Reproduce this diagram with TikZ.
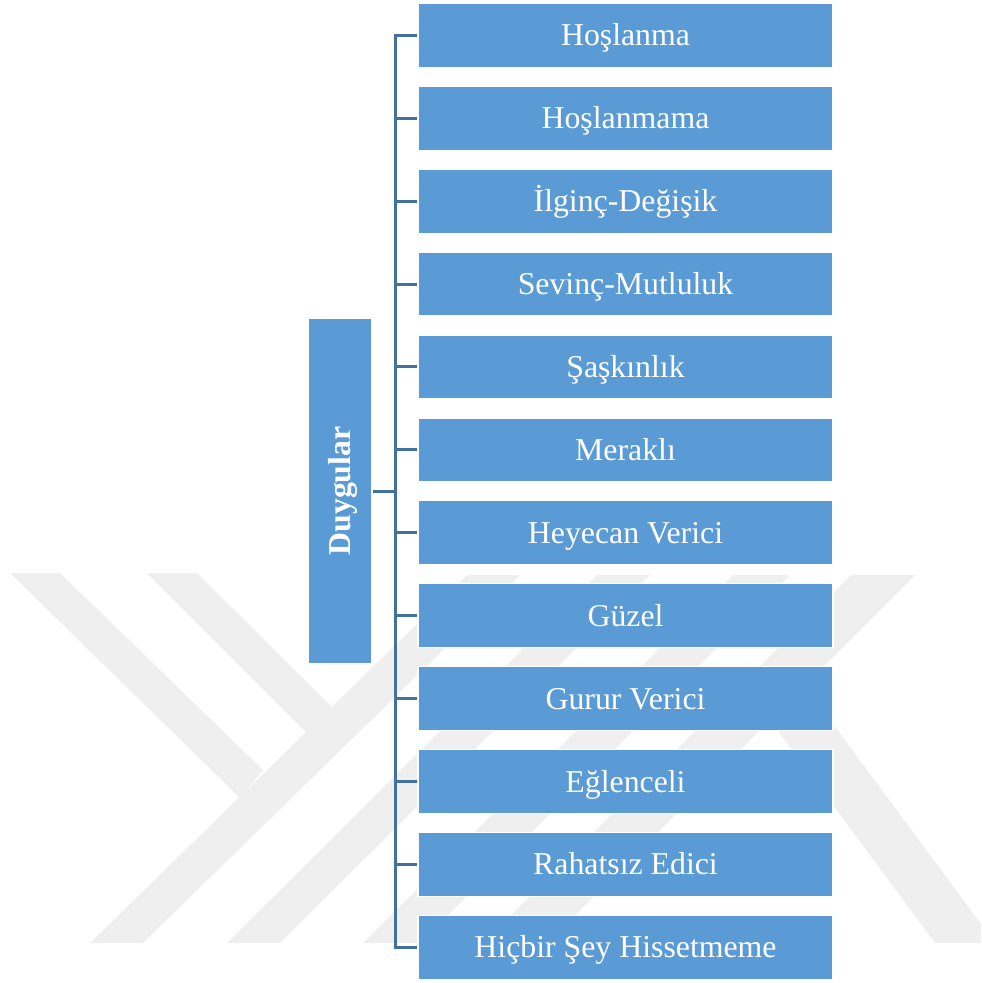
\documentclass[tikz,border=0pt]{standalone}
\usepackage{fontspec}
\setmainfont{Liberation Serif}
\definecolor{boxblue}{HTML}{5B9BD5}
\definecolor{lineblue}{HTML}{41719C}
\definecolor{wmgray}{HTML}{EFEFEF}

\begin{document}
\begin{tikzpicture}[x=0.5pt, y=-0.5pt,
  item/.style={fill=boxblue, draw=white, line width=0.6pt, text=white,
    minimum width=207.5pt, minimum height=32pt, inner sep=0pt,
    text height=10.5pt, text depth=0pt,
    font=\fontsize{15.9}{18}\selectfont},
  root/.style={fill=boxblue, draw=white, line width=0.6pt, text=white,
    minimum width=173pt, minimum height=32pt, inner sep=0pt, rotate=90,
    text height=10.6pt, text depth=0pt,
    font=\fontsize{15.9}{18}\selectfont\bfseries},
  conn/.style={lineblue, line width=1.5pt}]
\path[use as bounding box] (0,0) rectangle (981,983);
% watermark in the background
\begin{scope}
\clip (0,0) rectangle (981,983);
\fill[wmgray] (10,573) -- (60,573) -- (263,770) -- (240,798) -- cycle;
\fill[wmgray] (147,573) -- (197,573) -- (333,708) -- (307,733) -- cycle;
\fill[wmgray] (90,943) -- (143,943) -- (520,575) -- (467,575) -- cycle;
\fill[wmgray] (227,943) -- (280,943) -- (650,575) -- (597,575) -- cycle;
\fill[wmgray] (363,943) -- (420,943) -- (790,575) -- (733,575) -- cycle;
\fill[wmgray] (483,943) -- (547,943) -- (915,575) -- (851,575) -- cycle;
\fill[wmgray] (770,720) -- (830,720) -- (995,943) -- (935,943) -- cycle;
\end{scope}
% root box
\node[root] (duygular) at (340,491) {Duygular};
% feeling boxes
\node[item] (b1) at (625.5,35.4) {Hoşlanma};
\node[item] (b2) at (625.5,118.3) {Hoşlanmama};
\node[item] (b3) at (625.5,201.2) {İlginç-Değişik};
\node[item] (b4) at (625.5,284.1) {Sevinç-Mutluluk};
\node[item] (b5) at (625.5,367.0) {Şaşkınlık};
\node[item] (b6) at (625.5,449.9) {Meraklı};
\node[item] (b7) at (625.5,532.8) {Heyecan Verici};
\node[item] (b8) at (625.5,615.7) {Güzel};
\node[item] (b9) at (625.5,698.6) {Gurur Verici};
\node[item] (b10) at (625.5,781.5) {Eğlenceli};
\node[item] (b11) at (625.5,864.4) {Rahatsız Edici};
\node[item] (b12) at (625.5,947.3) {Hiçbir Şey Hissetmeme};
% connectors
\coordinate (trunk) at (395,491);
\draw[conn] (duygular.south) -- (trunk);
\draw[conn] (b1.west) -| (trunk) |- (b12.west);
\draw[conn] (trunk |- b2.west) -- (b2.west);
\draw[conn] (trunk |- b3.west) -- (b3.west);
\draw[conn] (trunk |- b4.west) -- (b4.west);
\draw[conn] (trunk |- b5.west) -- (b5.west);
\draw[conn] (trunk |- b6.west) -- (b6.west);
\draw[conn] (trunk |- b7.west) -- (b7.west);
\draw[conn] (trunk |- b8.west) -- (b8.west);
\draw[conn] (trunk |- b9.west) -- (b9.west);
\draw[conn] (trunk |- b10.west) -- (b10.west);
\draw[conn] (trunk |- b11.west) -- (b11.west);
\end{tikzpicture}
\end{document}
